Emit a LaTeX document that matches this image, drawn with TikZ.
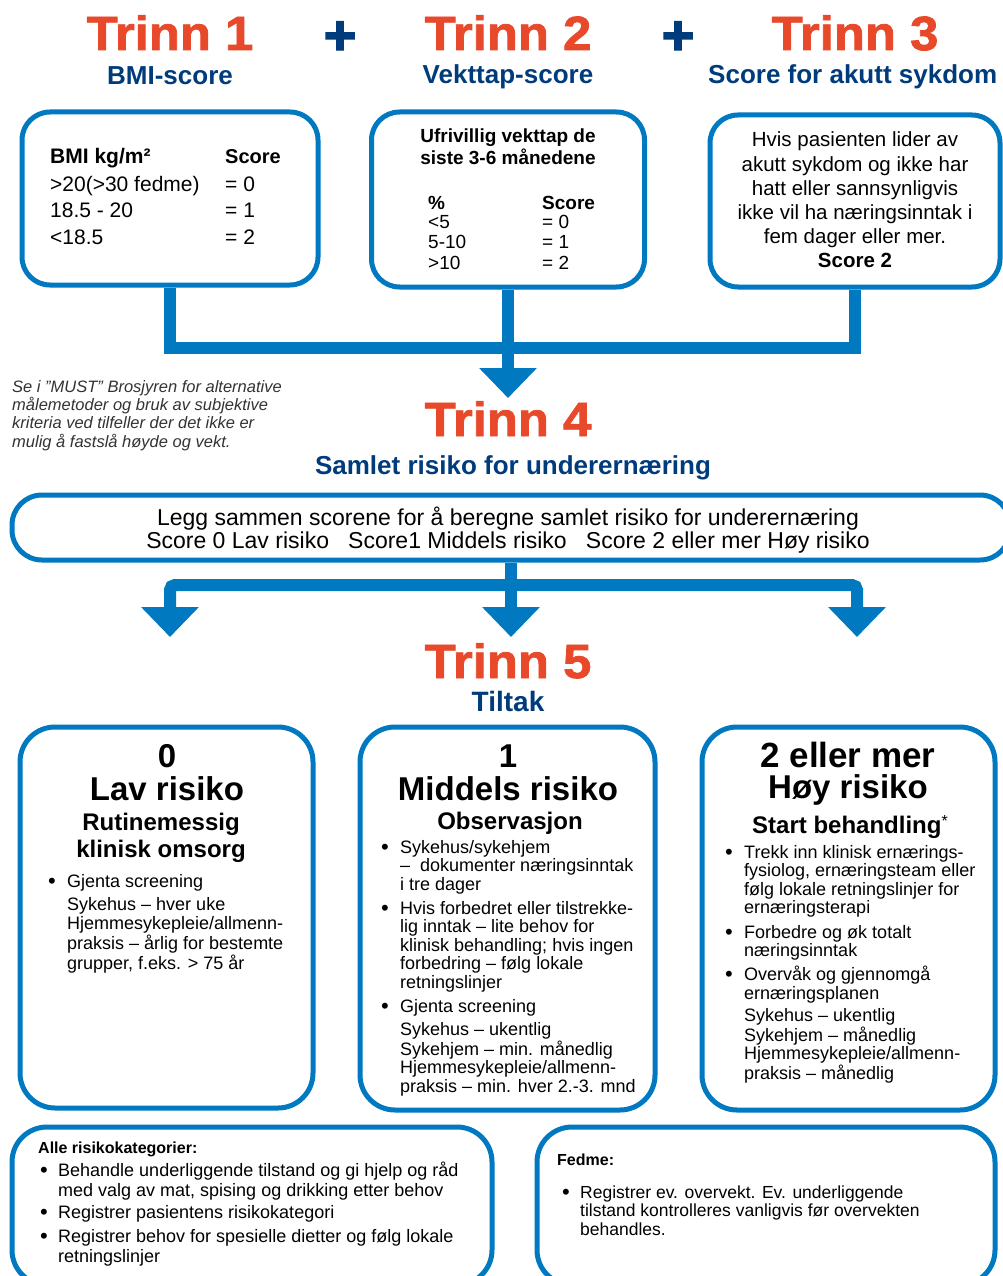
\documentclass[tikz,border=0pt]{standalone}
\usepackage{fontspec}
\setmainfont{Liberation Sans}
\newfontfamily\heavy{Liberation Sans}[BoldFeatures={FakeBold=1.6,FakeStretch=1.06}]
\newfontfamily\plusfont{Liberation Sans}[BoldFeatures={FakeBold=2.5}]
\usetikzlibrary{arrows.meta}
\definecolor{trinnc}{HTML}{E8492A}
\definecolor{navy}{HTML}{003B7C}
\definecolor{bblue}{HTML}{0079C1}
\definecolor{notec}{HTML}{333333}
\newcommand{\lnsl}[1]{\begin{tabular}[t]{@{}l@{}}#1\end{tabular}}
\newcommand{\lnsc}[1]{\begin{tabular}[t]{@{}c@{}}#1\end{tabular}}
\newcommand{\fs}[2]{\fontsize{#1}{#2}\selectfont}
\begin{document}
\begin{tikzpicture}[x=1pt,y=-1pt,
 box/.style={draw=bblue, line width=5pt, rounded corners=30pt, fill=white, inner sep=0pt},
 pipe/.style={draw=bblue, line width=12pt, line join=miter},
 tip/.style={-{Triangle[width=56pt,length=30pt]}},
 trinn/.style={text=trinnc, font=\heavy\fs{48}{50}\bfseries, inner sep=0pt, anchor=base},
 plus/.style={text=navy, font=\plusfont\fs{56}{56}\bfseries, inner sep=0pt},
 sub/.style={text=navy, font=\fs{26}{28}\bfseries, inner sep=0pt, anchor=base},
 title/.style={inner sep=0pt, anchor=base, font=\fs{33}{35}\bfseries},
 subt/.style={inner sep=0pt, anchor=base, font=\fs{24}{27}\bfseries},
 tl/.style={inner sep=0pt, anchor=base west, font=\fs{18}{18.4}},
 tc/.style={inner sep=0pt, anchor=base, font=\fs{18}{18.4}},
 bul/.style={inner sep=0pt, anchor=base west, font=\fs{22}{22}},
]
\fill[white] (0,0) rectangle (1002,1276);
\useasboundingbox (0,0) rectangle (1002,1276);

% ---------- headings ----------
\node[trinn] (h1) at (170,50) {Trinn 1};
\node[plus] (p1) at (340,38) {+};
\node[trinn] (h2) at (508,50) {Trinn 2};
\node[plus] (p2) at (678,38) {+};
\node[trinn] (h3) at (855,50) {Trinn 3};
\node[sub] (s1) at (170,85) {BMI-score};
\node[sub] (s2) at (508,84) {Vekttap-score};
\node[sub, anchor=base west] (s3) at (708,84) {Score for akutt sykdom};

% ---------- top boxes ----------
\node[box, rounded corners=28pt, minimum width=296, minimum height=173] (tb1) at (170,198.5) {};
\node[box, rounded corners=28pt, minimum width=273, minimum height=175] (tb2) at (508,199.5) {};
\node[box, rounded corners=28pt, minimum width=290, minimum height=172] (tb3) at (855,201) {};

% box 1
\node[tl, font=\fs{21}{27}\bfseries] (bmih) at (50,164) {BMI kg/m²};
\node[tl, font=\fs{20}{27}\bfseries] (bmis) at (225,164) {Score};
\node[tl, font=\fs{21}{27}] (bmiv) at (50,191) {\lnsl{>20(>30 fedme)\\18.5 - 20\\<18.5}};
\node[tl, font=\fs{21}{27}] (bmiq) at (225,191) {\lnsl{= 0\\= 1\\= 2}};

% box 2
\node[tc, font=\fs{19}{20}] (vth) at (508,143) {\lnsc{\bfseries Ufrivillig vekttap de\\\bfseries siste 3-6 månedene}};
\node[tl, font=\fs{19}{20}\bfseries] (vtp) at (428,209) {\%};
\node[tl, font=\fs{19}{20}\bfseries] (vts) at (542,209) {Score};
\node[tl, font=\fs{19}{20.5}] (vtv) at (428,228) {\lnsl{<5\\5-10\\>10}};
\node[tl, font=\fs{19}{20.5}] (vtq) at (542,228) {\lnsl{= 0\\= 1\\= 2}};

% box 3
\node[tc, font=\fs{20.5}{24.2}] (aks) at (855,147) {\lnsc{Hvis pasienten lider av\\akutt sykdom og ikke har\\hatt eller sannsynligvis\\ikke vil ha næringsinntak i\\fem dager eller mer.\\\bfseries Score 2}};

% ---------- pipes top ----------
\coordinate (bar1) at (508,348);
\coordinate (t4tip) at (508,398);
\draw[pipe] (tb1.south) |- (tb3.south |- bar1) -- (tb3.south);
\draw[pipe, tip] (tb2.south) -- (t4tip);

% ---------- note ----------
\node[tl, font=\fs{16.5}{18}\itshape, text=notec] (note) at (12,392) {\lnsl{Se i ”MUST” Brosjyren for alternative\\målemetoder og bruk av subjektive\\kriteria ved tilfeller der det ikke er\\mulig å fastslå høyde og vekt.}};

% ---------- Trinn 4 ----------
\node[trinn] (h4) at (508,436) {Trinn 4};
\node[sub] (s4) at (513,474) {Samlet risiko for underernæring};
\node[box, rounded corners=30pt, minimum width=998, minimum height=65] (wb) at (511,527.5) {};
\node[tc, font=\fs{23}{21.5}] (wt) at (508,525) {\lnsc{Legg sammen scorene for å beregne samlet risiko for underernæring\\Score 0 Lav risiko \ \ Score1 Middels risiko \ \ Score 2 eller mer Høy risiko}};

% ---------- pipes lower ----------
\coordinate (j2) at (511,585);
\coordinate (tA) at (170,637);
\coordinate (tB) at (511,637);
\coordinate (tC) at (857,637);
\draw[pipe, tip] (wb.south) -- (tB);
\draw[pipe, tip, rounded corners=5pt] (j2) -| (tA);
\draw[pipe, tip, rounded corners=5pt] (j2) -| (tC);

% ---------- Trinn 5 ----------
\node[trinn] (h5) at (508,678) {Trinn 5};
\node[sub, font=\fs{28}{30}\bfseries] (s5) at (508,711) {Tiltak};

\node[box, rounded corners=35pt, minimum width=293, minimum height=381] (rA) at (166.5,917.5) {};
\node[box, rounded corners=35pt, minimum width=295, minimum height=383] (rB) at (507.5,918.5) {};
\node[box, rounded corners=35pt, minimum width=293, minimum height=383] (rC) at (848.5,918.5) {};

% box A
\node[title] (a0) at (167,767) {0};
\node[title] (a1) at (167,800) {Lav risiko};
\node[subt] (a2) at (161,830) {\lnsc{Rutinemessig\\klinisk omsorg}};
\node[bul] (aB1) at (48,888) {\textbullet};
\node[tl] (aT1) at (67,887) {Gjenta screening};
\node[tl, font=\fs{18}{19}] (aT2) at (67,910) {\lnsl{Sykehus – hver uke\\Hjemmesykepleie/allmenn-\\praksis – årlig for bestemte\\grupper, f.eks. > 75 år}};

% box B
\node[title] (b0) at (508,767) {1};
\node[title] (b1) at (508,800) {Middels risiko};
\node[subt] (b2) at (510,829) {Observasjon};
\node[bul] (bB1) at (381,854) {\textbullet};
\node[tl] (bT1) at (400,853) {\lnsl{Sykehus/sykehjem\\– \ dokumenter næringsinntak\\i tre dager}};
\node[bul] (bB2) at (381,915) {\textbullet};
\node[tl, font=\fs{18}{18.3}] (bT2) at (400,914) {\lnsl{Hvis forbedret eller tilstrekke-\\lig inntak – lite behov for\\klinisk behandling; hvis ingen\\forbedring – følg lokale\\retningslinjer}};
\node[bul] (bB3) at (381,1013) {\textbullet};
\node[tl] (bT3) at (400,1012) {Gjenta screening};
\node[tl, font=\fs{18}{18.3}] (bT4) at (400,1035) {\lnsl{Sykehus – ukentlig\\Sykehjem – min. månedlig\\Hjemmesykepleie/allmenn-\\praksis – min. hver 2.-3. mnd}};

% box C
\node[title, font=\fs{35}{37}\bfseries] (c0) at (848,767) {2 eller mer};
\node[title] (c1) at (848,798) {Høy risiko};
\node[subt] (c2) at (850,833) {Start behandling\raisebox{7pt}{\fs{16}{16}\mdseries *}};
\node[bul] (cB1) at (725,859) {\textbullet};
\node[tl] (cT1) at (744,858) {\lnsl{Trekk inn klinisk ernærings-\\fysiolog, ernæringsteam eller\\følg lokale retningslinjer for\\ernæringsterapi}};
\node[bul] (cB2) at (725,939) {\textbullet};
\node[tl] (cT2) at (744,938) {\lnsl{Forbedre og øk totalt\\næringsinntak}};
\node[bul] (cB3) at (725,981) {\textbullet};
\node[tl, font=\fs{18}{19}] (cT3) at (744,980) {\lnsl{Overvåk og gjennomgå\\ernæringsplanen}};
\node[tl, font=\fs{18}{18.4}] (cT4) at (744,1021) {\lnsl{Sykehus – ukentlig\\Sykehjem – månedlig\\Hjemmesykepleie/allmenn-\\praksis – månedlig}};

% ---------- bottom boxes ----------
\node[box, rounded corners=35pt, minimum width=480, minimum height=158] (nD) at (252,1206) {};
\node[box, rounded corners=35pt, minimum width=458, minimum height=158] (nE) at (766,1206) {};

\node[tl, font=\fs{16}{18}\bfseries] (dH) at (38,1153) {Alle risikokategorier:};
\node[bul] (dB1) at (40,1177) {\textbullet};
\node[tl, font=\fs{18}{20}] (dT1) at (58,1176) {\lnsl{Behandle underliggende tilstand og gi hjelp og råd\\med valg av mat, spising og drikking etter behov}};
\node[bul] (dB2) at (40,1219) {\textbullet};
\node[tl] (dT2) at (58,1218) {Registrer pasientens risikokategori};
\node[bul] (dB3) at (40,1243) {\textbullet};
\node[tl, font=\fs{18}{20}] (dT3) at (58,1242) {\lnsl{Registrer behov for spesielle dietter og følg lokale\\retningslinjer}};

\node[tl, font=\fs{16}{18}\bfseries] (eH) at (557,1165) {Fedme:};
\node[bul] (eB1) at (562,1199) {\textbullet};
\node[tl, font=\fs{17.5}{18.5}] (eT1) at (580,1198) {\lnsl{Registrer ev. overvekt. Ev. underliggende\\tilstand kontrolleres vanligvis før overvekten\\behandles.}};
\end{tikzpicture}
\end{document}
